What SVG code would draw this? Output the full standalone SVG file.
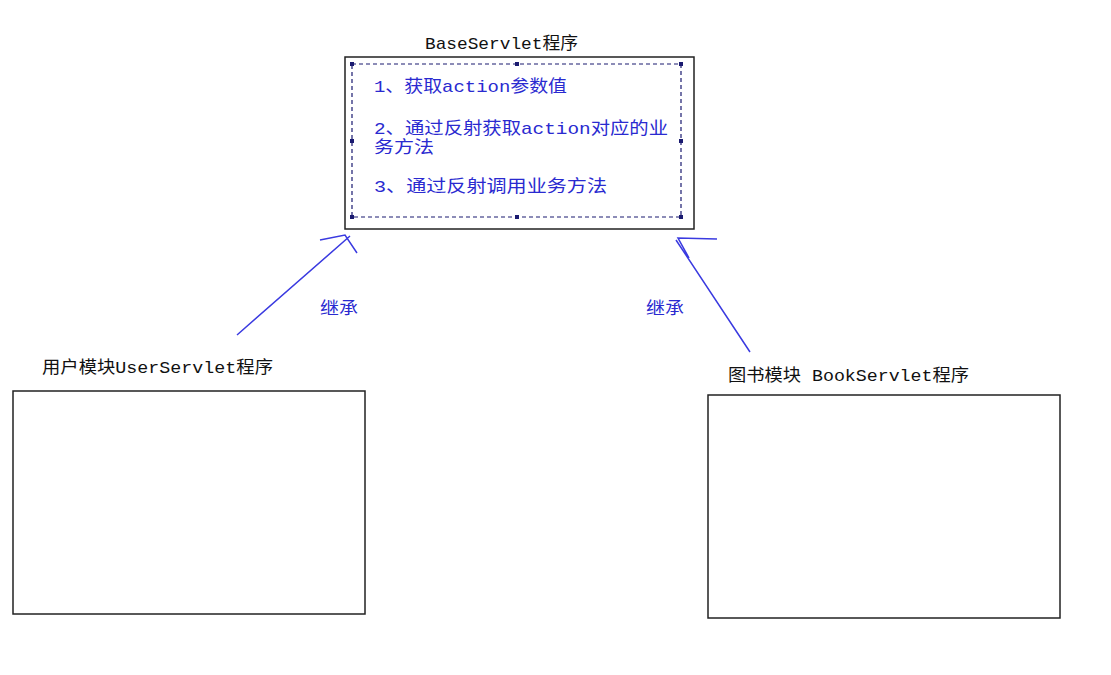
<svg xmlns="http://www.w3.org/2000/svg" width="1111" height="675" viewBox="0 0 1111 675">
<style>
.t{font-family:"Liberation Mono","Noto Sans CJK SC",monospace;font-size:17px;fill:#111}
.b{font-family:"Liberation Mono","Noto Sans CJK SC",monospace;font-size:17px;fill:#2a2ad0}
.box{fill:#fff;stroke:#222;stroke-width:1.5}
.arr{stroke:#3a3ae0;stroke-width:1.5;fill:none}
.h{fill:#1a1a70}
</style>
<rect width="1111" height="675" fill="#fff"/>
<g id="base">
<text class="t" x="425" y="49" textLength="153" lengthAdjust="spacingAndGlyphs">BaseServlet程序</text>
<rect class="box" x="345" y="57" width="349" height="172" stroke-width="2"/>
<rect x="352" y="64" width="329" height="153" fill="none" stroke="#1a1a70" stroke-width="1.2" stroke-dasharray="4,3"/>
<g class="h">
<rect x="350" y="62" width="4" height="4"/><rect x="515" y="62" width="4" height="4"/><rect x="679" y="62" width="4" height="4"/>
<rect x="350" y="139" width="4" height="4"/><rect x="679" y="139" width="4" height="4"/>
<rect x="350" y="215" width="4" height="4"/><rect x="515" y="215" width="4" height="4"/><rect x="679" y="215" width="4" height="4"/>
</g>
<text class="b" x="374" y="92" textLength="193" lengthAdjust="spacingAndGlyphs">1、获取action参数值</text>
<text class="b" x="374" y="134" textLength="294" lengthAdjust="spacingAndGlyphs">2、通过反射获取action对应的业</text>
<text class="b" x="374" y="153" textLength="60" lengthAdjust="spacingAndGlyphs">务方法</text>
<text class="b" x="374" y="192" textLength="233" lengthAdjust="spacingAndGlyphs">3、通过反射调用业务方法</text>
</g>
<g id="user">
<text class="t" x="42" y="373" textLength="231" lengthAdjust="spacingAndGlyphs">用户模块UserServlet程序</text>
<rect class="box" x="13" y="391" width="352" height="223"/>
</g>
<g id="book">
<text class="t" x="728" y="381" textLength="241" lengthAdjust="spacingAndGlyphs">图书模块 BookServlet程序</text>
<rect class="box" x="708" y="395" width="352" height="223"/>
</g>
<g id="connectors">
<path class="arr" d="M237,335 L350,236 M320,240 L345,235 L357,253"/>
<text class="b" x="320" y="314" textLength="38" lengthAdjust="spacingAndGlyphs">继承</text>
<path class="arr" d="M750,352 L676,240 M717,239 L678,238 L689,258"/>
<text class="b" x="646" y="314" textLength="38" lengthAdjust="spacingAndGlyphs">继承</text>
</g>
</svg>
